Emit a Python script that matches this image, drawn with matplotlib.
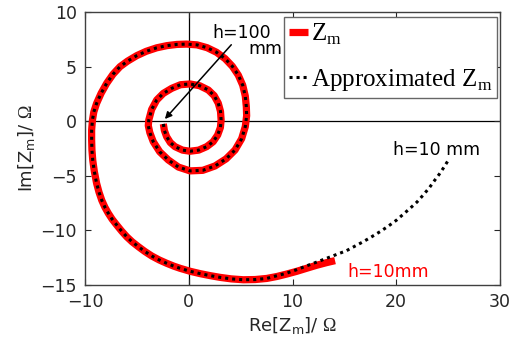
import matplotlib
matplotlib.use("Agg")
import matplotlib.pyplot as plt

plt.rcParams['mathtext.fontset'] = 'custom'
plt.rcParams['mathtext.rm'] = 'Liberation Serif'
plt.rcParams['mathtext.sf'] = 'DejaVu Sans'
plt.rcParams['font.family'] = ['DejaVu Sans']

# Shared spiral (h = 100 mm at the centre -> outward)
spiral_re = [-2.45, -2.35, -2.13, -1.78, -1.33, -0.60, 0.12, 0.95, 1.73, 2.35, 2.79, 3.05,
             3.12, 3.06, 2.85, 2.45, 1.88, 1.05, 0.12, -0.80, -1.64, -2.45, -3.09, -3.58,
             -3.85, -3.90, -3.75, -3.42, -2.80, -1.97, -1.00, 0.12, 1.35, 2.53, 3.60, 4.46,
             5.10, 5.45, 5.58, 5.55, 5.45, 5.20, 4.78, 4.20, 3.50, 2.68, 1.77, 0.80, -0.20,
             -1.15, -2.10, -3.09, -4.10, -5.02, -5.90, -6.63, -7.30, -7.91, -8.45, -8.88,
             -9.15, -9.28, -9.36, -9.36, -9.33, -9.25, -9.10, -8.88, -8.65, -8.38, -8.08,
             -7.75, -7.38, -6.95, -6.48, -5.98, -5.45, -4.86, -4.23, -3.57, -2.86, -2.13,
             -1.48, -0.84, 0.12, 1.10, 2.05, 3.01, 4.10, 5.26, 6.40, 7.51]
spiral_im = [-0.25, -0.85, -1.42, -1.95, -2.33, -2.65, -2.75, -2.65, -2.33, -1.88, -1.26, -0.58,
             0.11, 0.90, 1.64, 2.34, 2.86, 3.25, 3.41, 3.34, 3.01, 2.55, 1.94, 1.07,
             0.11, -0.40, -1.05, -1.88, -2.80, -3.55, -4.20, -4.55, -4.50, -4.10, -3.45, -2.64,
             -1.60, -0.50, 0.50, 1.33, 2.30, 3.30, 4.21, 5.03, 5.73, 6.31, 6.73, 6.99, 7.06,
             7.03, 6.92, 6.72, 6.40, 6.00, 5.50, 4.99, 4.30, 3.47, 2.55, 1.64,
             0.85, 0.11, -0.80, -1.72, -2.65, -3.60, -4.60, -5.69, -6.50, -7.25, -7.88,
             -8.44, -8.98, -9.50, -10.05, -10.58, -11.05, -11.49, -11.93, -12.34, -12.70, -13.01,
             -13.26, -13.47, -13.74, -13.96, -14.14, -14.30, -14.44, -14.52, -14.50, -14.40]

# Exact Zm ends at h = 10 mm
zm_tail_re = [8.50, 9.43, 10.40, 11.36, 12.30, 13.29, 14.10]
zm_tail_im = [-14.22, -14.00, -13.75, -13.47, -13.20, -12.95, -12.77]

# Approximated Zm continues further
approx_tail_re = [8.50, 9.43, 10.40, 11.36, 12.33, 13.30, 14.26, 15.20, 16.00, 16.83, 17.60,
                  18.43, 19.25, 20.04, 20.70, 21.33, 22.00, 22.60, 23.20, 23.73, 24.15, 24.53, 25.00]
approx_tail_im = [-14.15, -13.92, -13.60, -13.25, -12.90, -12.55, -12.20, -11.86, -11.45, -11.03, -10.60,
                  -10.12, -9.60, -9.05, -8.50, -7.98, -7.40, -6.76, -6.08, -5.38, -4.85, -4.31, -3.60]

xticks = [-10, 0, 10, 20, 30]
yticks = [-15, -10, -5, 0, 5, 10]

fig = plt.figure(figsize=(5.12, 3.54), dpi=100)
ax = fig.add_axes([85/512, 1-285/354, 415/512, 273/354])

ax.axhline(0, color='black', lw=0.9, zorder=1)
ax.axvline(0, color='black', lw=0.9, zorder=1)

ax.plot(spiral_re + zm_tail_re, spiral_im + zm_tail_im, color='#ff0000', lw=5.2,
        solid_capstyle='butt', solid_joinstyle='round', label=r'Z$_{\mathrm{m}}$', zorder=2)
ax.plot(spiral_re + approx_tail_re, spiral_im + approx_tail_im, color='black', lw=2.2,
        linestyle=(0, (1, 1.3)), dash_capstyle='butt',
        label=r'Approximated Z$_{\mathrm{m}}$', zorder=3)

ax.set_xlim(-10, 30)
ax.set_ylim(-15, 10)
ax.set_xticks(xticks)
ax.set_yticks(yticks)
ax.set_xticklabels([str(t).replace('-', '\u2212') for t in xticks])
ax.set_yticklabels([str(t).replace('-', '\u2212') for t in yticks])
ax.tick_params(direction='in', top=True, right=True, length=4, width=0.8,
               labelsize=12.5, colors='#262626', pad=6)
for s in ax.spines.values():
    s.set_color('#404040')
    s.set_linewidth(1.0)

ax.set_xlabel(r'Re[Z$_\mathsf{m}$]/ $\mathrm{\Omega}$', fontsize=13, color='#262626', labelpad=3)
ax.set_ylabel(r'Im[Z$_\mathsf{m}$]/ $\mathrm{\Omega}$', fontsize=13, color='#262626', labelpad=2)

ax.annotate('', xy=(-2.3, 0.2), xytext=(4.1, 7.0),
            arrowprops=dict(arrowstyle='-|>', color='black', lw=1.1,
                            mutation_scale=10, shrinkA=0, shrinkB=0))
ax.text(2.25, 8.1, 'h=100', fontsize=12.5, ha='left', va='center', color='black')
ax.text(5.7, 6.6, 'mm', fontsize=12.5, ha='left', va='center', color='black')
ax.text(19.7, -2.65, 'h=10 mm', fontsize=12.5, ha='left', va='center', color='black')
ax.text(15.3, -13.85, 'h=10mm', fontsize=12.5, ha='left', va='center', color='#ff0000')

leg = ax.legend(loc='upper right', bbox_to_anchor=(0.993, 0.982),
                prop={'family': 'Liberation Serif', 'size': 18},
                handlelength=0.75, handletextpad=0.1, borderpad=0.2,
                labelspacing=0.8, borderaxespad=0, fancybox=False, framealpha=1)
leg.get_frame().set_edgecolor('#666666')
leg.get_frame().set_linewidth(1.0)

fig.savefig('out.png', dpi=100)
